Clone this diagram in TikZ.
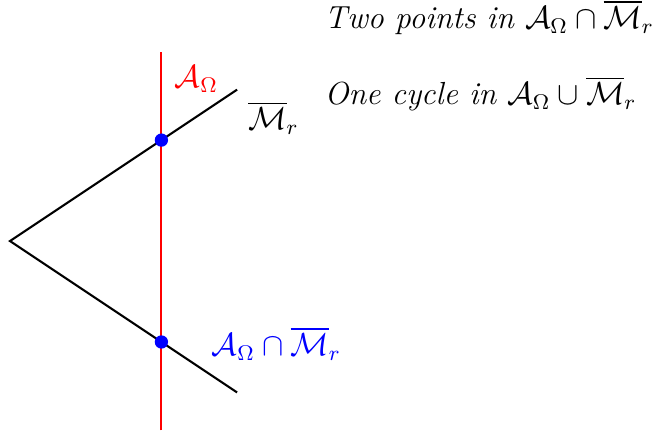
\documentclass[tikz,border=0pt]{standalone}
\usepackage{amsmath,amssymb}
\begin{document}
\begin{tikzpicture}
\tikzset{
  edge/.style={thick, black},
  redline/.style={thick, red},
  dot/.style={circle, fill=blue, inner sep=0pt, minimum size=5pt},
  lbl/.style={anchor=base west, inner sep=0pt, font=\large},
}
\useasboundingbox (-0.132,-2.576) rectangle (8.507,3.184);
\coordinate (V) at (0,0);
\coordinate (U) at (3,2);
\coordinate (L) at (3,-2);
\coordinate (T) at (2,2.5);
\coordinate (B) at (2,-2.5);
\draw[edge] (U) -- (V) -- (L);
\draw[redline] (B) -- (T);
\node[dot] (P1) at (2,4/3) {};
\node[dot] (P2) at (2,-4/3) {};
\node[lbl, red] (la) at (2.17,2.03) {$\mathcal{A}_\Omega$};
\node[lbl] (lm) at (3.14,1.47) {$\overline{\mathcal{M}}_r$};
\node[lbl, blue] (li) at (2.66,-1.51) {$\mathcal{A}_\Omega\cap\overline{\mathcal{M}}_r$};
\node[lbl] (t1) at (4.15,2.81) {\textit{Two points in} $\mathcal{A}_\Omega\cap\overline{\mathcal{M}}_r$};
\node[lbl] (t2) at (4.15,1.80) {\textit{One cycle in} $\mathcal{A}_\Omega\cup\overline{\mathcal{M}}_r$};
\end{tikzpicture}
\end{document}
